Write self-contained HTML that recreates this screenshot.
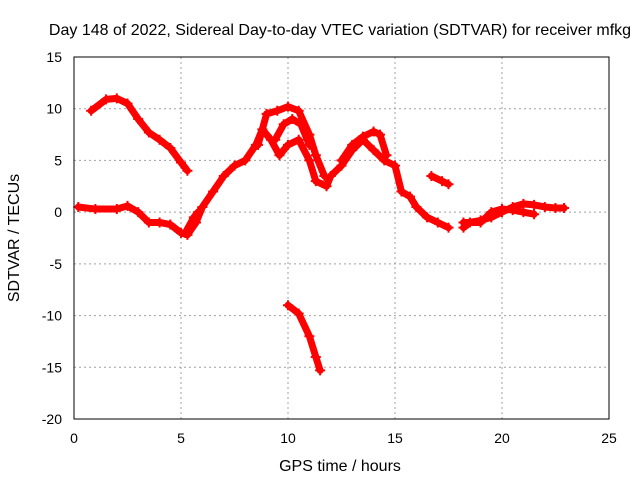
<!DOCTYPE html>
<html><head><meta charset="utf-8"><style>
body{margin:0;background:#fff;}
svg{display:block;font-family:"Liberation Sans",sans-serif;}
</style></head><body>
<svg id="chart" width="640" height="480">
<text x="340" y="35" text-anchor="middle" font-size="16">Day 148 of 2022, Sidereal Day-to-day VTEC variation (SDTVAR) for receiver mfkg</text>
<text x="340" y="471" text-anchor="middle" font-size="16">GPS time / hours</text>
<text transform="translate(19,238) rotate(-90)" text-anchor="middle" font-size="16">SDTVAR / TECUs</text>
<g id="grid"></g><g id="ticks"></g><g id="marks"></g>
<rect x="74" y="57" width="535" height="362" fill="none" stroke="#000" stroke-width="1"/>
</svg>
<script>
const xTicks=[0,5,10,15,20,25];
const yTicks=[15,10,5,0,-5,-10,-15,-20];
const trackA=[[0.8,9.8],[1.5,10.9],[2,11],[2.5,10.5],[3,9],[3.5,7.7],[4,7],[4.5,6.2],[5,4.8],[5.3,4]];
const trackB=[[0.2,0.5],[1,0.3],[2,0.3],[2.5,0.6],[3,0],[3.5,-1],[4,-1],[4.5,-1.2],[5,-2],[5.3,-2.2],[5.7,-1],[6,0.5],[6.5,2],[7,3.5],[7.5,4.5],[8,5],[8.5,6.5],[8.8,8],[9.2,7],[9.6,5.5],[10,6.5],[10.5,7],[11,5],[11.3,3],[11.8,2.5],[12,3.5],[12.5,4.5],[13,6],[13.5,7],[14,6],[14.5,5],[15,4.5],[15.3,2],[15.7,1.5],[16,0.5],[16.5,-0.5],[17,-1],[17.5,-1.5]];
const trackC=[[8.6,6.5],[9,9.5],[9.5,9.8],[10,10.2],[10.5,9.8],[11,7.5],[11.3,5.5],[11.7,3.5]];
const trackD=[[9.4,7],[9.8,8.5],[10.2,9],[10.6,8.5],[11,6.5]];
const trackE=[[12.5,5],[13,6.5],[13.5,7.3],[14,7.8],[14.3,7.5],[14.6,5.5]];
const trackF=[[16.7,3.5],[17.2,3],[17.5,2.7]];
const trackG=[[10,-9],[10.5,-9.8],[11,-12],[11.3,-14],[11.5,-15.3]];
const trackH=[[18.2,-1.5],[18.5,-1],[19,-0.8],[19.5,-0.5],[20,0],[20.5,0.5],[21,0.8],[21.5,0.7],[22,0.5],[22.5,0.4],[22.9,0.4]];
const trackI=[[18.2,-1],[19,-1],[19.5,0],[20,0.3],[20.5,0.2],[21,0],[21.5,-0.2]];
const trackJ=[[5.2,-2],[5.6,-0.5],[5.8,0]];
const tracks=[trackA,trackB,trackC,trackD,trackE,trackF,trackG,trackH,trackI,trackJ];
const NS='http://www.w3.org/2000/svg';
const X=v=>74+v*(535/25);
const Y=v=>57+(15-v)*(362/35);
const grid=document.getElementById('grid'),ticks=document.getElementById('ticks'),marks=document.getElementById('marks');
function mk(t,a,p){const e=document.createElementNS(NS,t);for(const k in a)e.setAttribute(k,a[k]);p.appendChild(e);return e;}
xTicks.forEach(v=>{
 if(v>0&&v<25){const g=mk('line',{x1:X(v),x2:X(v),y1:57,y2:419,stroke:'#a0a0a0','stroke-dasharray':'2,3'},grid);
 
 }
 const t=mk('text',{x:X(v),y:443,'text-anchor':'middle','font-size':14},ticks);t.textContent=v;
 
 
});
yTicks.forEach(v=>{
 if(v>-20&&v<15){const g=mk('line',{x1:74,x2:609,y1:Y(v),y2:Y(v),stroke:'#a0a0a0','stroke-dasharray':'2,3'},grid);
 
 }
 const t=mk('text',{x:62,y:Y(v)+5,'text-anchor':'end','font-size':14},ticks);t.textContent=v;
 
 
});
tracks.forEach(tr=>{
 const p=mk('polyline',{points:tr.map(d=>X(d[0])+','+Y(d[1])).join(' '),fill:'none',stroke:'#ff0000','stroke-width':7,'stroke-linejoin':'round','stroke-linecap':'round'},marks);
 
 
 tr.forEach(d=>{
  const m=mk('path',{d:`M${X(d[0])-5},${Y(d[1])}h10M${X(d[0])},${Y(d[1])-5}v10`,stroke:'#ff0000','stroke-width':2},marks);
  
  
 });
});
</script>
</body></html>
